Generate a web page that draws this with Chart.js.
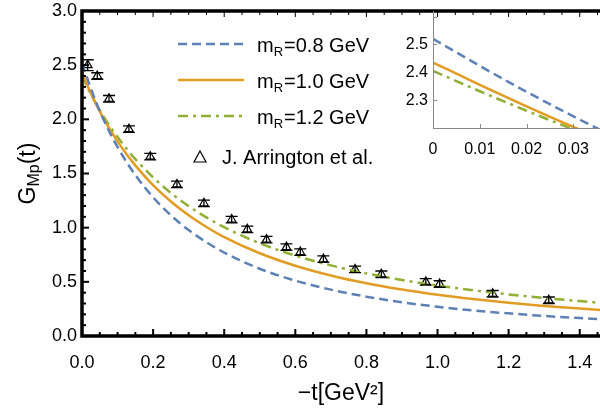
<!DOCTYPE html>
<html>
<head>
<meta charset="utf-8">
<script src="https://cdn.jsdelivr.net/npm/chart.js@4.4.1/dist/chart.umd.min.js"></script>
<style>
  html, body { margin: 0; padding: 0; background: #fff; }
  #wrap { position: relative; width: 600px; height: 408px; }
  #main { position: absolute; left: 0; top: 0; }
  #inset { position: absolute; left: 380px; top: 0; }
</style>
</head>
<body>
<div id="wrap">
  <canvas id="main" width="600" height="408"></canvas>
  <canvas id="inset" width="220" height="165"></canvas>
</div>
<script>
// curves
const tCurve  = [0, 0.02, 0.04, 0.06, 0.08, 0.1, 0.125, 0.15, 0.2, 0.25, 0.3, 0.35, 0.4, 0.5, 0.6, 0.7, 0.8, 0.9, 1.0, 1.1, 1.2, 1.3, 1.4, 1.46];
const gBlue   = [2.52, 2.330, 2.155, 2.003, 1.866, 1.744, 1.607, 1.486, 1.280, 1.114, 0.978, 0.865, 0.770, 0.621, 0.511, 0.428, 0.363, 0.311, 0.270, 0.236, 0.209, 0.185, 0.166, 0.155];
const gOrange = [2.435, 2.278, 2.138, 2.012, 1.900, 1.797, 1.680, 1.575, 1.392, 1.241, 1.114, 1.006, 0.913, 0.764, 0.649, 0.559, 0.487, 0.429, 0.381, 0.341, 0.307, 0.278, 0.253, 0.239];
const gGreen  = [2.405, 2.262, 2.141, 2.030, 1.929, 1.837, 1.730, 1.633, 1.464, 1.321, 1.199, 1.095, 1.004, 0.856, 0.742, 0.652, 0.578, 0.517, 0.466, 0.422, 0.384, 0.351, 0.322, 0.306];

// inset (small -t)
const tInset       = [0, 0.01, 0.02, 0.03, 0.04];
const gBlueInset   = [2.52, 2.423, 2.330, 2.242, 2.158];
const gOrangeInset = [2.435, 2.355, 2.278, 2.204, 2.134];
const gGreenInset  = [2.405, 2.332, 2.262, 2.195, 2.131];

// J. Arrington et al. points
const tData = [0.016, 0.043, 0.076, 0.132, 0.192, 0.267, 0.343, 0.421, 0.465, 0.519, 0.575, 0.614, 0.679, 0.768, 0.842, 0.967, 1.006, 1.155, 1.313];
const gData = [2.50, 2.40, 2.19, 1.91, 1.655, 1.40, 1.225, 1.075, 0.985, 0.89, 0.82, 0.775, 0.71, 0.615, 0.57, 0.50, 0.48, 0.39, 0.33];
const gErr  = [0.05, 0.03, 0.03, 0.03, 0.03, 0.03, 0.03, 0.03, 0.03, 0.03, 0.03, 0.03, 0.03, 0.03, 0.03, 0.03, 0.03, 0.03, 0.03];

const seriesNames = ['0.8', '1.0', '1.2'];
const BLUE = '#5E81B5', ORANGE = '#E19C24', GREEN = '#8FB032';
const FONT = '"Liberation Sans", Arial, sans-serif';

Chart.defaults.font.family = FONT;
Chart.defaults.color = '#000';

function pts(xs, ys) { return xs.map((x, i) => ({x: x, y: ys[i]})); }

function curve(data, color, dash) {
  return {
    data: data, showLine: true, borderColor: color, backgroundColor: color,
    borderWidth: 2.5, borderDash: dash, pointRadius: 0, pointHoverRadius: 0,
    cubicInterpolationMode: 'monotone'
  };
}

const noPad = () => ({left: 0, top: 0, right: 0, bottom: 0});

const errorBars = {
  id: 'errorBars',
  afterDatasetsDraw(chart) {
    const {ctx, scales: {x, y}} = chart;
    ctx.save();
    ctx.strokeStyle = '#000';
    ctx.lineWidth = 1.3;
    gData.forEach((g, i) => {
      const px = x.getPixelForValue(tData[i]);
      const y1 = y.getPixelForValue(g + gErr[i]);
      const y2 = y.getPixelForValue(g - gErr[i]);
      ctx.beginPath();
      ctx.moveTo(px, y1); ctx.lineTo(px, y2);
      ctx.moveTo(px - 6, y1); ctx.lineTo(px + 6, y1);
      ctx.moveTo(px - 6, y2); ctx.lineTo(px + 6, y2);
      ctx.stroke();
    });
    ctx.restore();
  }
};

const frameTicks = {
  id: 'frameTicks',
  afterDraw(chart) {
    const ctx = chart.ctx, a = chart.chartArea, x = chart.scales.x, y = chart.scales.y;
    ctx.save();
    ctx.setTransform(1, 0, 0, 1, 0, 0);
    ctx.setLineDash([]);
    ctx.strokeStyle = '#000000';
    for (let i = 0; i <= 29; i++) {
      const px = x.getPixelForValue(i * 0.05);
      const major = i % 4 === 0;
      ctx.lineWidth = 2;
      ctx.beginPath(); ctx.moveTo(px, a.bottom); ctx.lineTo(px, a.bottom - (major ? 7 : 4)); ctx.stroke();
      ctx.lineWidth = 1;
      ctx.beginPath(); ctx.moveTo(px, a.top); ctx.lineTo(px, a.top + (major ? 6 : 4)); ctx.stroke();
    }
    for (let i = 0; i <= 30; i++) {
      const py = y.getPixelForValue(i * 0.1);
      const major = i % 5 === 0;
      ctx.lineWidth = 2;
      ctx.beginPath(); ctx.moveTo(a.left, py); ctx.lineTo(a.left + (major ? 7 : 4), py); ctx.stroke();
    }
    ctx.lineWidth = 3.5;
    ctx.beginPath();
    ctx.moveTo(600, a.top); ctx.lineTo(a.left, a.top); ctx.lineTo(a.left, a.bottom); ctx.lineTo(600, a.bottom);
    ctx.stroke();
    ctx.restore();
  }
};

const labels = {
  id: 'labels',
  afterDraw(chart) {
    const {ctx, chartArea: a} = chart;
    ctx.save();
    ctx.setLineDash([]);
    // y title G_Mp(t)
    ctx.fillStyle = '#000';
    ctx.translate(27, (a.top + a.bottom) / 2);
    ctx.rotate(-Math.PI / 2);
    ctx.textBaseline = 'alphabetic';
    const big = '23px ' + FONT, small = '16px ' + FONT;
    ctx.font = big; const wG = ctx.measureText('G').width, wT = ctx.measureText('(t)').width;
    ctx.font = small; const wS = ctx.measureText('Mp').width;
    let sx = -(wG + wS + wT) / 2;
    ctx.font = big; ctx.fillText('G', sx, 8); sx += wG;
    ctx.font = small; ctx.fillText('Mp', sx, 12); sx += wS;
    ctx.font = big; ctx.fillText('(t)', sx, 8);
    ctx.setTransform(1, 0, 0, 1, 0, 0);

    // legend
    const ds = chart.data.datasets;
    const rows = [44, 80, 116];
    rows.forEach((ly, i) => {
      ctx.strokeStyle = ds[i].borderColor;
      ctx.lineWidth = ds[i].borderWidth;
      ctx.setLineDash(ds[i].borderDash || []);
      ctx.beginPath(); ctx.moveTo(178, ly); ctx.lineTo(244, ly); ctx.stroke();
      ctx.setLineDash([]);
      ctx.fillStyle = '#000';
      let tx = 257;
      ctx.font = '20px ' + FONT; ctx.fillText('m', tx, ly + 8); tx += ctx.measureText('m').width;
      ctx.font = '13px ' + FONT; ctx.fillText('R', tx, ly + 12); tx += ctx.measureText('R').width + 1;
      ctx.font = '20px ' + FONT; ctx.fillText('=' + seriesNames[i] + ' GeV', tx, ly + 8);
    });
    ctx.strokeStyle = '#000'; ctx.lineWidth = 1.2; ctx.fillStyle = '#fff';
    ctx.beginPath(); ctx.moveTo(200, 151); ctx.lineTo(206, 162); ctx.lineTo(194, 162); ctx.closePath();
    ctx.fill(); ctx.stroke();
    ctx.fillStyle = '#000';
    ctx.font = '20px ' + FONT; ctx.fillText('J. Arrington et al.', 222, 164);
    ctx.restore();
  }
};

new Chart(document.getElementById('main'), {
  type: 'scatter',
  data: {
    datasets: [
      curve(pts(tCurve, gBlue), BLUE, [9, 5]),
      curve(pts(tCurve, gOrange), ORANGE, []),
      curve(pts(tCurve, gGreen), GREEN, [10, 5, 3, 5]),
      {
        data: pts(tData, gData), pointStyle: 'triangle', pointRadius: 5,
        backgroundColor: '#fff', borderColor: '#000', borderWidth: 1.2, showLine: false
      }
    ]
  },
  options: {
    responsive: false, devicePixelRatio: 1, animation: false,
    layout: {autoPadding: false, padding: {top: 11, right: 0, left: 0, bottom: 0}},
    plugins: {legend: {display: false}, tooltip: {enabled: false}},
    scales: {
      x: {
        type: 'linear', min: 0, max: 1.457,
        grid: {display: false, drawTicks: false}, border: {display: false},
        afterFit: s => { s.height = 72; s.paddingLeft = 0; s.paddingRight = 0; s.getPadding = noPad; },
        ticks: {stepSize: 0.2, includeBounds: false, autoSkip: false, maxRotation: 0,
                padding: 16, font: {size: 18}, callback: v => v.toFixed(1)},
        title: {display: true, text: '\u2212t[GeV\u00B2]', font: {size: 23}, padding: {top: 0, bottom: 1}}
      },
      y: {
        type: 'linear', min: 0, max: 3,
        grid: {display: false, drawTicks: false}, border: {display: false},
        afterFit: s => { s.width = 82; s.paddingTop = 0; s.paddingBottom = 0; s.getPadding = noPad; },
        ticks: {stepSize: 0.5, includeBounds: false, autoSkip: false, padding: 5,
                font: {size: 18}, callback: v => v.toFixed(1)}
      }
    }
  },
  plugins: [errorBars, frameTicks, labels]
});

const insetFrame = {
  id: 'insetFrame',
  afterDraw(chart) {
    const {ctx, chartArea: a, scales: {x, y}} = chart;
    ctx.save();
    ctx.setLineDash([]);
    ctx.strokeStyle = '#8a8a8a';
    ctx.lineWidth = 1;
    ctx.beginPath();
    ctx.moveTo(a.left + 0.5, a.top); ctx.lineTo(a.left + 0.5, a.bottom + 0.5); ctx.lineTo(a.right, a.bottom + 0.5);
    ctx.stroke();
    for (let i = 0; i <= 3; i++) {
      const px = Math.round(x.getPixelForValue(i * 0.01)) + 0.5;
      ctx.beginPath(); ctx.moveTo(px, a.bottom); ctx.lineTo(px, a.bottom - 4); ctx.stroke();
    }
    for (let i = 0; i <= 4; i++) {
      const py = Math.round(y.getPixelForValue(2.2 + i * 0.1)) + 0.5;
      ctx.beginPath(); ctx.moveTo(a.left, py); ctx.lineTo(a.left + 4, py); ctx.stroke();
    }
    ctx.restore();
  }
};

new Chart(document.getElementById('inset'), {
  type: 'scatter',
  data: {
    datasets: [
      curve(pts(tInset, gBlueInset), BLUE, [9, 5]),
      curve(pts(tInset, gOrangeInset), ORANGE, []),
      curve(pts(tInset, gGreenInset), GREEN, [10, 5, 3, 5])
    ]
  },
  options: {
    responsive: false, devicePixelRatio: 1, animation: false,
    layout: {autoPadding: false, padding: {top: 11, right: 0, left: 0, bottom: 0}},
    plugins: {legend: {display: false}, tooltip: {enabled: false}},
    scales: {
      x: {
        type: 'linear', min: 0, max: 0.0357,
        grid: {display: false, drawTicks: false}, border: {display: false},
        afterFit: s => { s.height = 37; s.getPadding = noPad; },
        ticks: {stepSize: 0.01, includeBounds: false, autoSkip: false, maxRotation: 0,
                padding: 12, font: {size: 16}, callback: v => v < 1e-9 ? '0' : v.toFixed(2)}
      },
      y: {
        type: 'linear', min: 2.2, max: 2.62,
        grid: {display: false, drawTicks: false}, border: {display: false},
        afterFit: s => { s.width = 53; s.getPadding = noPad; },
        ticks: {stepSize: 0.1, includeBounds: false, autoSkip: false, padding: 5, font: {size: 16},
                callback: v => (v > 2.25 && v < 2.55) ? v.toFixed(1) : ''}
      }
    }
  },
  plugins: [insetFrame]
});
</script>
</body>
</html>
